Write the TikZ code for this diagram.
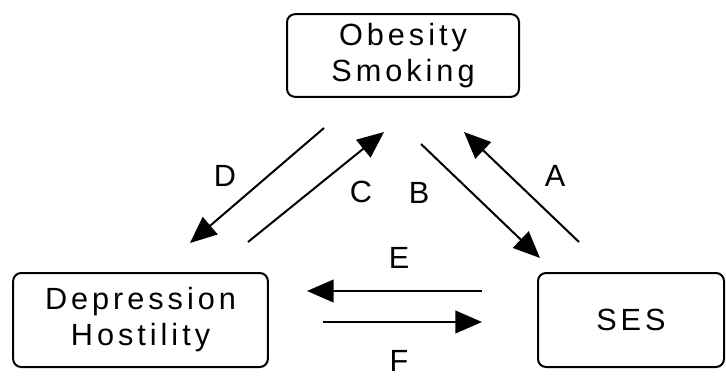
\documentclass[tikz,border=0pt]{standalone}
\usepackage{fontspec}
\setmainfont{Liberation Sans}[LetterSpace=13]
\usetikzlibrary{arrows.meta}

\tikzset{every picture/.style={line width=1.5pt}}
\tikzset{
	factorbox/.style={draw, rounded corners=6pt, align=center, inner sep=0pt, font=\fontsize{23}{27}\selectfont},
	pathlabel/.style={inner sep=0pt, font=\fontsize{23}{27}\selectfont},
	pathline/.style={-{Triangle[length=20pt,width=17pt]}}
}

\begin{document}
\begin{tikzpicture}[x=0.75pt,y=0.75pt,yscale=-1,xscale=1]
		\useasboundingbox (0,0) rectangle (726,379);
		
		%Shape: Rounded Rect [id:obesity] 
		\node [factorbox, minimum width=174pt, minimum height=62pt] (obes) at (403,55.5) {Obesity\\Smoking};
		%Shape: Rounded Rect [id:depression] 
		\node [factorbox, minimum width=191pt, minimum height=70.5pt] (depr) at (140.5,320) {Depression\\Hostility};
		%Shape: Rounded Rect [id:ses] 
		\node [factorbox, minimum width=139.5pt, minimum height=70.5pt] (ses) at (631,320) {SES};
		
		%Straight Lines [id:D] 
		\coordinate (dFrom) at (324,128); \coordinate (dTo) at (190,243);
		\draw [pathline] (dFrom) -- (dTo) ;
		%Straight Lines [id:C] 
		\coordinate (cFrom) at (248,242); \coordinate (cTo) at (384,132);
		\draw [pathline] (cFrom) -- (cTo) ;
		%Straight Lines [id:B] 
		\coordinate (bFrom) at (421,144); \coordinate (bTo) at (540,258);
		\draw [pathline] (bFrom) -- (bTo) ;
		%Straight Lines [id:A] 
		\coordinate (aFrom) at (579,242); \coordinate (aTo) at (464,132);
		\draw [pathline] (aFrom) -- (aTo) ;
		%Straight Lines [id:E] 
		\coordinate (eFrom) at (482,291); \coordinate (eTo) at (307,291);
		\draw [pathline] (eFrom) -- (eTo) ;
		%Straight Lines [id:F] 
		\coordinate (fFrom) at (323,322); \coordinate (fTo) at (482,322);
		\draw [pathline] (fFrom) -- (fTo) ;
		
		% Text Node
		\node [pathlabel] (labD) at (225,176) {D};
		% Text Node
		\node [pathlabel] (labC) at (361,192) {C};
		% Text Node
		\node [pathlabel] (labB) at (419,193) {B};
		% Text Node
		\node [pathlabel] (labA) at (555,176) {A};
		% Text Node
		\node [pathlabel] (labE) at (399,258) {E};
		% Text Node
		\node [pathlabel] (labF) at (399,361) {F};
		
\end{tikzpicture}
\end{document}
